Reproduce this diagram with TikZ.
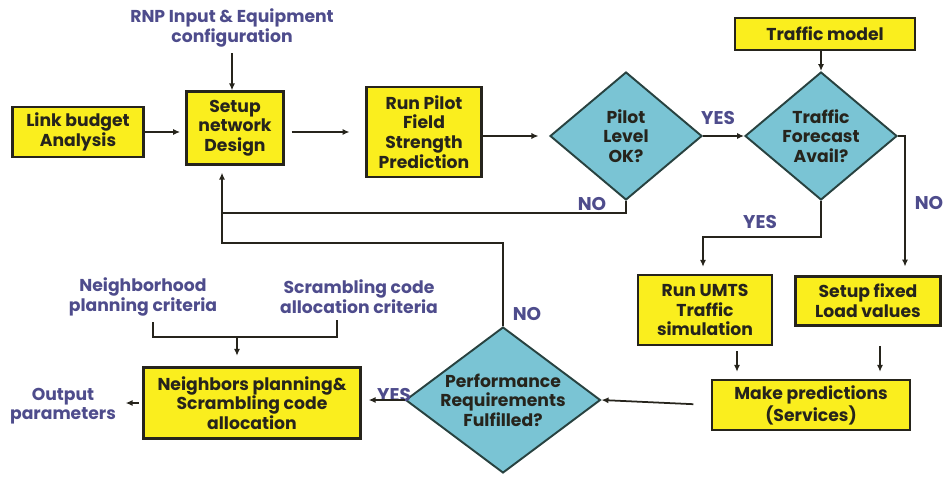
\documentclass[tikz,border=0pt]{standalone}
\usepackage{fontspec}
\setmainfont{Poppins}
\usetikzlibrary{shapes.geometric,arrows.meta}

\definecolor{boxyellow}{RGB}{250,238,30}
\definecolor{decblue}{RGB}{122,196,212}
\definecolor{decline}{RGB}{40,66,64}
\definecolor{labblue}{RGB}{78,76,140}
\definecolor{inkdark}{RGB}{38,36,28}

\tikzset{
  box/.style={rectangle,draw=inkdark,fill=boxyellow,line width=1.3pt,
    align=center,inner sep=1pt,text=inkdark,
    font=\fontsize{9.8}{11.2}\selectfont\bfseries},
  decision/.style={diamond,draw=decline,fill=decblue,line width=1.1pt,inner sep=0pt},
  dectext/.style={align=center,text=inkdark,font=\fontsize{9.8}{11.2}\selectfont\bfseries},
  note/.style={align=center,text=labblue,font=\fontsize{9.8}{11.2}\selectfont\bfseries},
  answer/.style={text=labblue,font=\fontsize{10.5}{11}\selectfont\bfseries},
  arrow/.style={-{Latex[length=4pt,width=3.5pt]},line width=1pt,draw=inkdark},
  link/.style={line width=1pt,draw=inkdark}
}

\begin{document}
\begin{tikzpicture}[x=0.02cm,y=-0.02cm]
    \useasboundingbox (0,0) rectangle (945,476);

    % Inputs and first row
    \node[note] (rnp) at (232,28) {RNP Input \& Equipment\\configuration};
    \node[box,minimum width=2.62cm,minimum height=1.0cm] (link) at (78,132) {Link budget\\Analysis};
    \node[box,minimum width=1.94cm,minimum height=1.46cm] (setup) at (235,128) {Setup\\network\\Design};
    \node[box,minimum width=2.3cm,minimum height=1.8cm] (runpilot) at (424,132) {Run Pilot\\Field\\Strength\\Prediction};
    \node[decision,minimum width=3.04cm,minimum height=2.56cm] (pilot) at (626,136) {};
    \node[dectext] (pilottxt) at (pilot) {Pilot\\Level\\OK?};
    \node[box,minimum width=3.6cm,minimum height=0.64cm] (trafmodel) at (825,34) {Traffic model};
    \node[decision,minimum width=3.04cm,minimum height=2.56cm] (forecast) at (821,136) {};
    \node[dectext] (forecasttxt) at (forecast) {Traffic\\Forecast\\Avail?};

    % Traffic branch
    \node[box,minimum width=2.68cm,minimum height=1.4cm] (umts) at (705,310) {Run UMTS\\Traffic\\simulation};
    \node[box,minimum width=2.9cm,minimum height=0.98cm] (fixed) at (868,301) {Setup fixed\\Load values};
    \node[box,minimum width=3.96cm,minimum height=1.0cm] (predict) at (811,405) {Make predictions\\(Services)};

    % Bottom row
    \node[decision,minimum width=3.9cm,minimum height=2.92cm] (perf) at (503,400) {};
    \node[dectext] (perftxt) at (perf) {Performance\\Requirements\\Fulfilled?};
    \node[box,minimum width=4.34cm,minimum height=1.42cm] (neigh) at (252,403) {Neighbors planning\&\\Scrambling code\\allocation};
    \node[note] (output) at (63,406) {Output\\parameters};
    \node[note] (neighcrit) at (143,297) {Neighborhood\\planning criteria};
    \node[note] (scramcrit) at (359,297) {Scrambling code\\allocation criteria};

    % Answer labels
    \node[answer] (yes1) at (718,118) {YES};
    \node[answer] (no1) at (592,204) {NO};
    \node[answer] (yes2) at (760,222) {YES};
    \node[answer] (no2) at (929,203) {NO};
    \node[answer] (no3) at (527,314) {NO};
    \node[answer] (yes3) at (394,395) {YES};

    % Turning points
    \coordinate (fcright) at (905,136);
    \coordinate (fcdown) at (703,237);
    \coordinate (pilotback) at (222,213);
    \coordinate (perfback) at (222,243);
    \coordinate (brk) at (237,337);

    % Edges, first row
    \draw[arrow] (rnp.south) -- (rnp.south |- setup.north);
    \draw[arrow,shorten >=3pt] (link.east) -- (link.east -| setup.west);
    \draw[arrow,shorten >=9pt,shorten <=4pt] (setup.east |- runpilot.west) -- (runpilot.west);
    \draw[arrow,shorten >=6pt] (runpilot.east |- pilot.west) -- (pilot.west);
    \draw[arrow] (pilot.east) -- (forecast.west);
    \draw[arrow] (trafmodel.south -| forecast.north) -- (forecast.north);

    % Edges, traffic branch
    \draw[arrow,shorten >=5pt] (forecast.east) -- (fcright) -- (fcright |- fixed.north);
    \draw[arrow,shorten >=4pt] (forecast.south) |- (fcdown) -- (fcdown |- umts.north);
    \draw[arrow,shorten >=4pt,shorten <=3pt] ([xshift=0.64cm]umts.south) -- ([xshift=0.64cm]umts.south |- predict.north);
    \draw[arrow,shorten >=4pt,shorten <=11pt] ([xshift=0.24cm]fixed.south) -- ([xshift=0.24cm]fixed.south |- predict.north);
    \draw[arrow,shorten <=10pt] (predict.west) -- (perf.east);

    % Edges, feedback to setup
    \draw[link] (pilot.south) |- (pilotback);
    \draw[arrow,shorten >=4pt] (perf.north) |- (perfback) -- (perfback |- setup.south);

    % Edges, bottom row
    \draw[arrow,shorten >=4pt] (perf.west) -- (perf.west -| neigh.east);
    \draw[arrow,shorten >=2pt,shorten <=2pt] (neigh.west) -- (neigh.west -| output.east);
    \draw[link] ([xshift=0.2cm]neighcrit.south) |- (brk) -| ([xshift=-0.44cm]scramcrit.south);
    \draw[arrow,shorten >=6pt] (brk) -- (brk |- neigh.north);
\end{tikzpicture}
\end{document}
